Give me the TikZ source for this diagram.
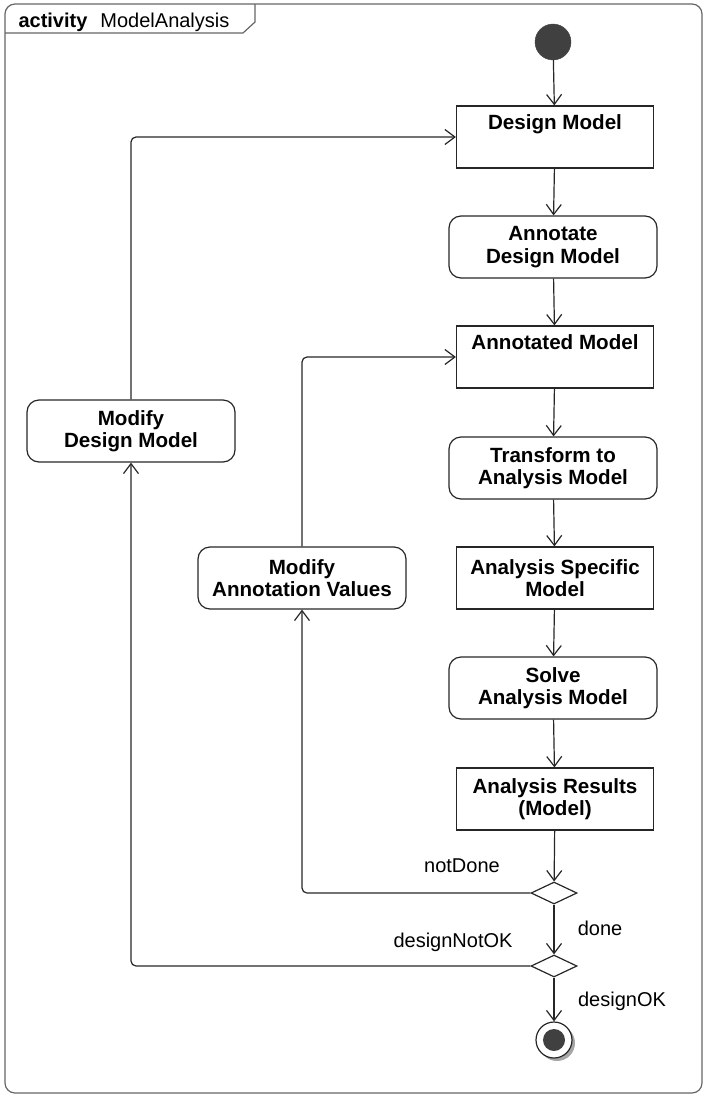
\documentclass[tikz,border=0pt]{standalone}
\usepackage{fontspec}
\setmainfont{Liberation Sans}
\usetikzlibrary{arrows.meta,shapes.geometric}

\tikzset{
	line/.style = {draw = black!85, line width = 1.2pt},
	flow/.style = {line, rounded corners = 5pt, -{Straight Barb[length = 10pt, width = 15pt, line width = 1.2pt]}},
	txt/.style = {font = \fontsize{20}{22}\selectfont},
	boldtxt/.style = {font = \fontsize{20.6}{22.5}\selectfont\bfseries},
	action/.style = {line, boldtxt, rounded corners = 12pt, minimum width = 208pt, minimum height = 62pt, inner sep = 0pt, align = center},
	object/.style = {line, boldtxt, minimum width = 197pt, minimum height = 62pt, inner sep = 0pt, align = center},
	decision/.style = {line, diamond, minimum width = 46pt, minimum height = 22pt, inner sep = 0pt},
	guard/.style = {txt}
}

\begin{document}
\begin{tikzpicture}[x = 1pt, y = -1pt]
	\useasboundingbox (0,0) rectangle (704,1095);
	% frame
	\draw [black!60, line width = 1.2pt, rounded corners = 10pt] (5,4) rectangle (702,1093);
	\draw [black!60, line width = 1.2pt] (5,33) -- (243,33) -- (255,22) -- (255,4);
	\node [txt, anchor = base west] (title) at (15,27) {\textbf{activity}\hspace{13pt}ModelAnalysis};
	% nodes
	\node [circle, fill = black!75, draw = black!75, minimum size = 36pt, inner sep = 0pt] (start) at (553,42) {};
	\node [object] (dm) at (555,137) {Design Model\\\strut};
	\node [action] (adm) at (553,247) {Annotate\\Design Model};
	\node [object] (am) at (555,357) {Annotated Model\\\strut};
	\node [action] (tam) at (553,468) {Transform to\\Analysis Model};
	\node [object] (asm) at (555,578) {Analysis Specific\\Model};
	\node [action] (sam) at (553,688) {Solve\\Analysis Model};
	\node [object] (arm) at (555,799) {Analysis Results\\(Model)};
	\node [decision] (d1) at (554,893) {};
	\node [decision] (d2) at (554,966) {};
	\fill [black!35] (557,1043) circle (18pt);
	\node [circle, line, fill = white, minimum size = 36pt, inner sep = 0pt] (stop) at (554,1040) {};
	\fill [black!75] (stop) circle (11pt);
	\node [action] (mdm) at (131,431) {Modify\\Design Model};
	\node [action] (mav) at (302,578) {Modify\\Annotation Values};
	% flows
	\draw [flow] (start) -- (dm);
	\draw [flow] (dm) -- (adm);
	\draw [flow] (adm) -- (am);
	\draw [flow] (am) -- (tam);
	\draw [flow] (tam) -- (asm);
	\draw [flow] (asm) -- (sam);
	\draw [flow] (sam) -- (arm);
	\draw [flow] (arm) -- (d1);
	\draw [flow] (d1) -- (d2);
	\draw [flow] (d2) -- (stop);
	\draw [flow] (d1) -| (mav);
	\draw [flow] (mav) |- (am);
	\draw [flow] (d2) -| (mdm);
	\draw [flow] (mdm) |- (dm);
	% guards
	\node [guard] (notdone) at (462,866) {notDone};
	\node [guard] (done) at (600,928) {done};
	\node [guard] (notok) at (453,942) {designNotOK};
	\node [guard] (ok) at (622,1001) {designOK};
\end{tikzpicture}
\end{document}
